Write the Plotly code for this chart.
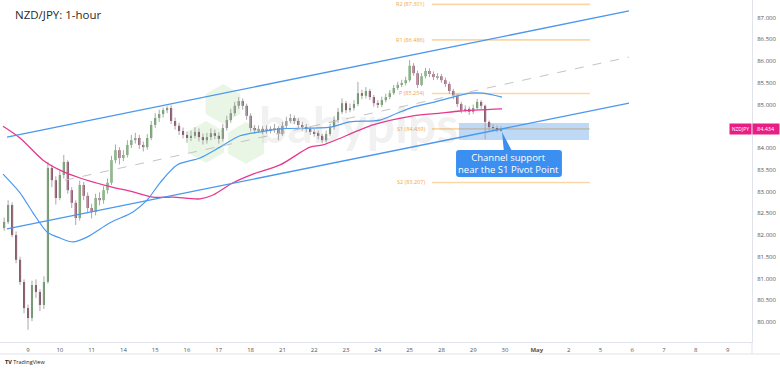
import plotly.graph_objects as go

# ---------------- data ----------------
day_ticks = [0, 1, 2, 3, 4, 5, 6, 7, 8, 9, 10, 11, 12, 13, 14, 15, 16, 17, 18, 19, 20, 21, 22]
day_labels = ["9", "10", "11", "14", "15", "16", "17", "18", "21", "22", "23", "24",
              "25", "28", "29", "30", "<b>May</b>", "2", "5", "6", "7", "8", "9"]

price_ticks = [80.0, 80.5, 81.0, 81.5, 82.0, 82.5, 83.0, 83.5, 84.0, 84.5, 85.0, 85.5, 86.0, 86.5, 87.0]

bar_start = -0.75      # first bar, in trading-day units (0 = Apr 9)
bar_step = 0.125       # 3-hour bars

opens = [82.16, 82.30, 82.69, 82.00, 81.43, 80.92, 80.32, 80.09, 80.85, 80.69,
         80.39, 80.92, 83.54, 83.26, 82.85, 83.38, 83.68, 83.03, 82.74, 82.39,
         83.15, 82.90, 82.62, 82.53, 82.85, 82.80, 83.03, 83.20, 83.72, 83.95,
         83.77, 83.84, 84.07, 84.18, 84.23, 84.07, 84.02, 84.23, 84.53, 84.69,
         84.78, 84.87, 84.92, 84.62, 84.51, 84.39, 84.30, 84.23, 84.28, 84.37,
         84.25, 84.18, 84.25, 84.34, 84.28, 84.21, 84.46, 84.64, 84.80, 84.97,
         85.08, 84.97, 84.74, 84.46, 84.41, 84.44, 84.39, 84.44, 84.41, 84.46,
         84.32, 84.51, 84.62, 84.69, 84.62, 84.53, 84.48, 84.44, 84.37, 84.34,
         84.28, 84.18, 84.32, 84.48, 84.64, 84.83, 85.03, 84.87, 84.92, 85.01,
         85.26, 85.20, 85.31, 85.17, 85.03, 84.99, 85.10, 85.17, 85.26, 85.38,
         85.45, 85.49, 85.56, 85.89, 85.72, 85.45, 85.65, 85.77, 85.70, 85.63,
         85.65, 85.56, 85.47, 85.31, 85.20, 85.01, 84.87, 84.90, 84.83, 84.92,
         85.06, 84.97, 84.60, 84.48, 84.46, 84.41]

highs = [82.40, 82.80, 82.75, 82.08, 81.50, 80.98, 80.40, 80.95, 80.98, 80.75,
         81.05, 83.68, 83.62, 83.35, 83.48, 83.84, 83.72, 83.10, 82.80, 83.25,
         83.22, 82.98, 82.72, 82.95, 82.98, 83.12, 83.30, 83.82, 84.08, 84.02,
         83.95, 84.18, 84.30, 84.35, 84.30, 84.15, 84.32, 84.62, 84.80, 84.88,
         84.93, 84.96, 84.98, 84.70, 84.58, 84.47, 84.38, 84.40, 84.48, 84.45,
         84.33, 84.35, 84.45, 84.42, 84.36, 84.55, 84.74, 84.90, 85.06, 85.17,
         85.14, 85.02, 84.80, 84.53, 84.52, 84.50, 84.52, 84.50, 84.55, 84.50,
         84.60, 84.72, 84.78, 84.75, 84.68, 84.60, 84.55, 84.50, 84.44, 84.40,
         84.33, 84.40, 84.56, 84.73, 84.92, 85.14, 85.08, 85.02, 85.10, 85.52,
         85.34, 85.40, 85.36, 85.22, 85.10, 85.18, 85.25, 85.33, 85.45, 85.52,
         85.57, 85.64, 86.02, 85.95, 85.78, 85.72, 85.84, 85.83, 85.76, 85.72,
         85.70, 85.62, 85.52, 85.36, 85.25, 85.06, 84.98, 84.95, 85.00, 85.13,
         85.10, 85.00, 84.63, 84.55, 84.52, 84.50]

lows = [82.10, 82.25, 81.95, 81.35, 80.85, 80.20, 79.82, 80.02, 80.55, 80.25,
        80.30, 80.88, 83.10, 82.70, 82.80, 83.30, 82.95, 82.62, 82.23, 82.33,
        82.80, 82.50, 82.38, 82.45, 82.68, 82.72, 82.95, 83.15, 83.65, 83.62,
        83.70, 83.78, 84.00, 84.10, 83.98, 83.92, 83.96, 84.18, 84.46, 84.60,
        84.70, 84.80, 84.55, 84.42, 84.30, 84.22, 84.12, 84.16, 84.22, 84.15,
        84.08, 84.10, 84.18, 84.20, 84.10, 84.15, 84.40, 84.58, 84.74, 84.90,
        84.88, 84.65, 84.38, 84.33, 84.35, 84.32, 84.33, 84.34, 84.35, 84.18,
        84.28, 84.45, 84.57, 84.55, 84.46, 84.40, 84.36, 84.30, 84.26, 84.20,
        84.11, 84.13, 84.27, 84.42, 84.58, 84.78, 84.80, 84.82, 84.86, 84.96,
        85.12, 85.14, 85.10, 84.95, 84.92, 84.94, 85.05, 85.12, 85.22, 85.33,
        85.40, 85.44, 85.52, 85.66, 85.38, 85.42, 85.60, 85.63, 85.56, 85.57,
        85.50, 85.40, 85.24, 85.12, 84.94, 84.80, 84.82, 84.76, 84.78, 84.88,
        84.90, 84.20, 84.40, 84.38, 84.36, 84.37]

closes = [82.30, 82.69, 82.00, 81.43, 80.92, 80.32, 80.09, 80.85, 80.69, 80.39,
          80.92, 83.54, 83.26, 82.85, 83.38, 83.68, 83.03, 82.74, 82.39, 83.15,
          82.90, 82.62, 82.53, 82.85, 82.80, 83.03, 83.20, 83.72, 83.95, 83.77,
          83.84, 84.07, 84.18, 84.23, 84.07, 84.02, 84.23, 84.53, 84.69, 84.78,
          84.87, 84.92, 84.62, 84.51, 84.39, 84.30, 84.23, 84.28, 84.37, 84.25,
          84.18, 84.25, 84.34, 84.28, 84.21, 84.46, 84.64, 84.80, 84.97, 85.08,
          84.97, 84.74, 84.46, 84.41, 84.44, 84.39, 84.44, 84.41, 84.46, 84.32,
          84.51, 84.62, 84.69, 84.62, 84.53, 84.48, 84.44, 84.37, 84.34, 84.28,
          84.18, 84.32, 84.48, 84.64, 84.83, 85.03, 84.87, 84.92, 85.01, 85.26,
          85.20, 85.31, 85.17, 85.03, 84.99, 85.10, 85.17, 85.26, 85.38, 85.45,
          85.49, 85.56, 85.89, 85.72, 85.45, 85.65, 85.77, 85.70, 85.63, 85.65,
          85.56, 85.47, 85.31, 85.20, 85.01, 84.87, 84.90, 84.83, 84.92, 85.06,
          84.97, 84.60, 84.48, 84.46, 84.41, 84.434]

ma_fast_x = [-0.786, -0.252, 0.157, 0.597, 1.006, 1.415, 1.855, 2.579, 3.302, 3.742,
             4.151, 4.686, 5.409, 6.038, 6.667, 7.296, 7.925, 9.497, 10.126, 11.069,
             11.604, 12.107, 12.642, 13.365, 13.899, 14.308, 14.906]
ma_fast_y = [83.40, 82.97, 82.51, 82.07, 81.93, 81.84, 81.95, 82.28, 82.53, 82.80,
             83.20, 83.61, 83.77, 84.02, 84.28, 84.37, 84.44, 84.48, 84.60, 84.64,
             84.80, 84.94, 85.03, 85.17, 85.26, 85.26, 85.17]

ma_slow_x = [-0.786, -0.252, 0.472, 1.006, 1.635, 2.484, 3.302, 3.931, 4.560, 5.409,
             5.818, 6.447, 7.075, 7.925, 8.868, 9.277, 10.849, 12.107, 12.956, 13.585,
             14.906]
ma_slow_y = [84.50, 84.23, 83.72, 83.49, 83.31, 83.13, 82.99, 82.87, 82.87, 82.83,
             82.92, 83.20, 83.40, 83.61, 84.02, 84.07, 84.53, 84.74, 84.80, 84.85,
             84.90]

channel_x = [-0.66, 18.90]
channel_upper = [84.25, 87.15]
channel_lower = [82.14, 85.03]
midline_x = [1.16, 18.90]
midline_y = [83.26, 86.09]

pivot_names = ["R2", "R1", "P", "S1", "S2"]
pivot_values = [87.301, 86.486, 85.254, 84.439, 83.207]
pivot_x = [12.70, 17.67]

zone_x = [13.55, 17.64]
zone_y = [84.184, 84.575]

callout_x = [13.46, 16.79]
callout_y = [83.333, 83.954]
callout_tip = [14.906, 84.37]
callout_base_x = [14.97, 15.25]
callout_text = "Channel support<br>near the S1 Pivot Point"

symbol = "NZDJPY"
last_price = 84.434
title_text = "NZD/JPY: 1-hour"

# ---------------- layout constants ----------------
W, H = 780, 369
PLOT_W, PLOT_H = 752, 342
X_RANGE = [-0.881, 22.767]
Y_RANGE = [79.54, 87.402]
FONT = "Open Sans"

fig = go.Figure()

xs = [bar_start + bar_step * i for i in range(len(closes))]

# wicks
wx, wy = [], []
for x, h, l in zip(xs, highs, lows):
    wx += [x, x, None]
    wy += [l, h, None]
fig.add_trace(go.Scatter(x=wx, y=wy, mode="lines",
                         line=dict(color="#a8a8a8", width=1), hoverinfo="skip"))

# bodies
base = [min(o, c) for o, c in zip(opens, closes)]
height = [max(abs(c - o), 0.015) for o, c in zip(opens, closes)]
colors = ["#4a8a45" if c >= o else "#6e1a3c" for o, c in zip(opens, closes)]
fig.add_trace(go.Bar(x=xs, y=height, base=base, width=0.065,
                     marker=dict(color=colors, line=dict(width=0)), hoverinfo="skip"))

# moving averages
fig.add_trace(go.Scatter(x=ma_slow_x, y=ma_slow_y, mode="lines",
                         line=dict(color="#e8378e", width=1.3, shape="spline", smoothing=0.8),
                         hoverinfo="skip"))
fig.add_trace(go.Scatter(x=ma_fast_x, y=ma_fast_y, mode="lines",
                         line=dict(color="#4a9af0", width=1.2, shape="spline", smoothing=0.8),
                         hoverinfo="skip"))

# channel
fig.add_trace(go.Scatter(x=channel_x, y=channel_upper, mode="lines",
                         line=dict(color="#4a97ee", width=1.3), hoverinfo="skip"))
fig.add_trace(go.Scatter(x=channel_x, y=channel_lower, mode="lines",
                         line=dict(color="#4a97ee", width=1.3), hoverinfo="skip"))
fig.add_trace(go.Scatter(x=midline_x, y=midline_y, mode="lines",
                         line=dict(color="#c4c4c4", width=1, dash="dash"), hoverinfo="skip"))

shapes = []
annotations = []

# pivot lines
for name, val in zip(pivot_names, pivot_values):
    shapes.append(dict(type="line", xref="x", yref="y", x0=pivot_x[0], x1=pivot_x[1],
                       y0=val, y1=val, line=dict(color="#fdd6a6", width=1.6), layer="below"))
    annotations.append(dict(xref="x", yref="y", x=pivot_x[0], y=val, xshift=-5,
                            xanchor="right", yanchor="middle", showarrow=False,
                            text=f"{name} ({val:.3f})",
                            font=dict(size=5.5, color="#f5a44a", family=FONT)))

# support zone
shapes.append(dict(type="rect", xref="x", yref="y", x0=zone_x[0], x1=zone_x[1],
                   y0=zone_y[0], y1=zone_y[1], fillcolor="rgba(70,145,230,0.35)",
                   line=dict(width=0), layer="below"))

# callout box with rounded corners
x0, x1 = callout_x
y0, y1 = callout_y
rx, ry = 3 / 31.8, 3 / 43.5
box_path = (f"M {x0+rx},{y0} L {x1-rx},{y0} Q {x1},{y0} {x1},{y0+ry} "
            f"L {x1},{y1-ry} Q {x1},{y1} {x1-rx},{y1} L {x0+rx},{y1} "
            f"Q {x0},{y1} {x0},{y1-ry} L {x0},{y0+ry} Q {x0},{y0} {x0+rx},{y0} Z")
shapes.append(dict(type="path", xref="x", yref="y", path=box_path,
                   fillcolor="#3a8ff0", line=dict(width=0), layer="above"))
tri_path = (f"M {callout_tip[0]},{callout_tip[1]} L {callout_base_x[0]},{y1 - ry} "
            f"L {callout_base_x[1]},{y1 - ry} Z")
shapes.append(dict(type="path", xref="x", yref="y", path=tri_path,
                   fillcolor="#3a8ff0", line=dict(width=0), layer="above"))
annotations.append(dict(xref="x", yref="y", x=(x0 + x1) / 2, y=(y0 + y1) / 2,
                        text=callout_text, showarrow=False, align="center",
                        font=dict(size=9.5, color="white", family=FONT)))

# frame lines
yb = (PLOT_H - 354) / PLOT_H
shapes.append(dict(type="line", xref="paper", yref="paper", x0=0, x1=W / PLOT_W,
                   y0=yb, y1=yb, line=dict(color="#e0e3eb", width=1)))
shapes.append(dict(type="line", xref="paper", yref="paper", x0=1, x1=1,
                   y0=yb, y1=0, line=dict(color="#e0e3eb", width=1)))


# watermark (babypips logo)
def hexagon(cx, cy, r):
    import math
    pts = []
    for k in range(6):
        a = math.radians(90 + 60 * k)
        px = cx + r * math.cos(a)
        py = cy - r * math.sin(a)
        pts.append((px / PLOT_W, (PLOT_H - py) / PLOT_H))
    return "M " + " L ".join(f"{a},{b}" for a, b in pts) + " Z"


for cx, cy, r in [(223, 104, 20), (206, 142, 21), (246, 143, 21)]:
    shapes.append(dict(type="path", xref="paper", yref="paper", path=hexagon(cx, cy, r),
                       fillcolor="rgba(120,200,100,0.16)", line=dict(width=0), layer="below"))
annotations.append(dict(xref="paper", yref="paper", x=358 / PLOT_W, y=(PLOT_H - 124) / PLOT_H,
                        text="<b>babypips</b>", showarrow=False,
                        font=dict(size=50, color="rgba(120,120,120,0.10)", family="Lato")))

# title
annotations.append(dict(xref="paper", yref="paper", x=13 / PLOT_W, y=(PLOT_H - 14) / PLOT_H,
                        xanchor="left", yanchor="middle", showarrow=False, text=title_text,
                        font=dict(size=11.5, color="#2a2a2a", family=FONT)))

# last price labels
annotations.append(dict(xref="paper", yref="y", x=1, y=last_price, xanchor="left",
                        yanchor="middle", showarrow=False, text=f"{last_price:.3f}",
                        bgcolor="#e91e84", width=24, height=8, borderpad=1,
                        font=dict(size=5.5, color="white", family=FONT)))
annotations.append(dict(xref="paper", yref="y", x=1, y=last_price, xanchor="right",
                        yanchor="middle", showarrow=False, text=symbol,
                        bgcolor="#e91e84", width=19, height=8, borderpad=1,
                        font=dict(size=5, color="white", family=FONT)))

# TradingView logo text
annotations.append(dict(xref="paper", yref="paper", x=3 / PLOT_W, y=(PLOT_H - 362) / PLOT_H,
                        xanchor="left", yanchor="middle", showarrow=False,
                        text="<b>TV</b> TradingView",
                        font=dict(size=5.5, color="#222", family=FONT)))

fig.update_layout(
    width=W, height=H,
    margin=dict(l=0, r=W - PLOT_W, t=0, b=H - PLOT_H),
    paper_bgcolor="white", plot_bgcolor="white",
    showlegend=False, barmode="overlay", hovermode=False,
    shapes=shapes, annotations=annotations,
    xaxis=dict(range=X_RANGE, tickvals=day_ticks, ticktext=day_labels,
               showgrid=False, zeroline=False, showline=True, linecolor="#e0e3eb",
               ticks="outside", ticklen=2, tickcolor="rgba(0,0,0,0)",
               tickfont=dict(size=6, color="#555", family=FONT)),
    yaxis=dict(range=Y_RANGE, side="right", tickvals=price_ticks,
               ticktext=[f"{v:.3f}" for v in price_ticks],
               showgrid=False, zeroline=False, showline=True, linecolor="#e0e3eb",
               ticks="outside", ticklen=3, tickcolor="rgba(0,0,0,0)",
               tickfont=dict(size=6, color="#555", family=FONT)),
)

fig.write_html(
    "out.html",
    config={"displayModeBar": False},
    post_script="document.body.style.margin='0';document.body.style.overflow='hidden';",
)
